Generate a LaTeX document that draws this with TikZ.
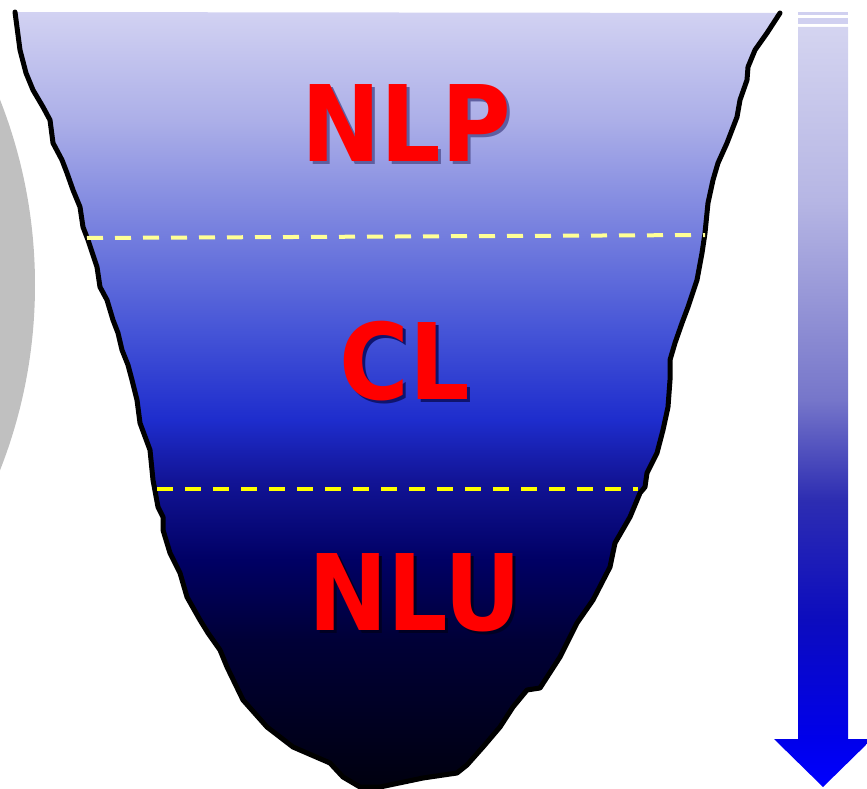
\documentclass[tikz,border=0pt]{standalone}
\usepackage{fontspec}
\usepackage{graphicx}
\newfontfamily\labelfont{DejaVu Sans}
\definecolor{lblred}{RGB}{255,0,0}
\definecolor{circgray}{RGB}{192,192,192}
\definecolor{dashpale}{RGB}{255,255,150}
\definecolor{dashyel}{RGB}{255,255,0}
\definecolor{stripecol}{RGB}{208,208,240}
\definecolor{shadowa}{RGB}{95,95,160}
\definecolor{shadowb}{RGB}{15,20,110}
\definecolor{shadowc}{RGB}{0,0,35}
\definecolor{fa}{RGB}{0,0,15}
\definecolor{fb}{RGB}{0,0,55}
\definecolor{fc}{RGB}{0,0,100}
\definecolor{fd}{RGB}{18,20,150}
\definecolor{fe}{RGB}{30,45,205}
\definecolor{ff}{RGB}{70,85,215}
\definecolor{fg}{RGB}{115,125,222}
\definecolor{fh}{RGB}{172,175,232}
\definecolor{fi}{RGB}{210,210,242}
\definecolor{aa}{RGB}{0,0,255}
\definecolor{ab}{RGB}{0,0,235}
\definecolor{ac}{RGB}{12,12,190}
\definecolor{ad}{RGB}{45,45,178}
\definecolor{ae}{RGB}{118,118,202}
\definecolor{af}{RGB}{182,182,228}
\definecolor{ag}{RGB}{212,212,240}
\pgfdeclareverticalshading{funnelshade}{100bp}{color(0bp)=(fa); color(25bp)=(fa); color(34.5bp)=(fb); color(39.6bp)=(fc); color(44.8bp)=(fd); color(48.7bp)=(fe); color(54.5bp)=(ff); color(60.5bp)=(fg); color(68bp)=(fh); color(75bp)=(fi); color(100bp)=(fi)}
\pgfdeclareverticalshading{arrowshade}{100bp}{color(0bp)=(aa); color(25bp)=(aa); color(28.1bp)=(ab); color(36bp)=(ac); color(43.9bp)=(ad); color(50.5bp)=(ae); color(63.6bp)=(af); color(75bp)=(ag); color(100bp)=(ag)}
\newcommand{\shadowed}[2]{\makebox[0pt][l]{\hspace{3pt}\raisebox{-3pt}{\textcolor{#1}{\scalebox{0.9}[1]{#2}}}}\scalebox{0.9}[1]{#2}}
\begin{document}
\begin{tikzpicture}[x=1pt,y=-1pt,
  lbl/.style={font=\labelfont\bfseries\fontsize{105.6}{110}\selectfont, text=lblred, inner sep=0pt, anchor=center},
  sepline/.style={line width=4pt, dash pattern=on 16pt off 12pt},
  outline/.style={draw=black, line width=5pt, line join=round, line cap=round}]
\useasboundingbox (0,0) rectangle (867,789);
% grey circle at left
\begin{scope}
  \clip (0,0) rectangle (867,789);
  \fill[circgray] (-471,285) circle[radius=506];
\end{scope}
% funnel
\path[shading=funnelshade, outline]
  (15,12) -- (20,50) -- (26,73) -- (33,90) -- (43,107) -- (50,120) -- (53,143) -- (62,160)
  -- (67,173) -- (73,190) -- (80,207) -- (83,227) -- (88,240) -- (97,267) -- (100,287)
  -- (107,300) -- (113,320) -- (118,333) -- (122,350) -- (128,365) -- (132,380) -- (137,400)
  -- (140,423) -- (150,450) -- (153,480) -- (158,507) -- (163,517) -- (163,530) -- (170,553)
  -- (180,573) -- (187,597) -- (200,620) -- (208,633) -- (220,650) -- (227,667) -- (243,700)
  -- (267,727) -- (280,737) -- (293,747) -- (330,763) -- (343,777) -- (360,787) -- (380,787)
  -- (423,778) -- (457,773) -- (467,765) -- (483,747) -- (500,727) -- (513,707) -- (527,690)
  -- (540,688) -- (560,657) -- (577,623) -- (593,600) -- (610,567) -- (615,543) -- (630,517)
  -- (640,493) -- (645,487) -- (647,473) -- (657,453) -- (663,430) -- (668,407) -- (670,380)
  -- (670,360) -- (675,343) -- (682,323) -- (688,307) -- (697,280) -- (702,253) -- (705,233)
  -- (708,203) -- (713,180) -- (718,163) -- (727,143) -- (737,117) -- (740,100) -- (747,80)
  -- (748,67) -- (755,50) -- (767,33) -- (780,13);
% separators
\draw[sepline, dashpale] (87,238) -- (705,235);
\draw[sepline, dashyel] (157,489) -- (638,489);
% labels
\node[lbl] (nlp) at (406,125) {\shadowed{shadowa}{NLP}};
\node[lbl] (cl) at (405,363) {\shadowed{shadowb}{CL}};
\node[lbl] (nlu) at (415,594) {\shadowed{shadowc}{NLU}};
% arrow at right
\fill[stripecol] (798,12) rectangle (848,15);
\fill[stripecol] (798,18) rectangle (848,24);
\path[shading=arrowshade] (798,27) -- (848,27) -- (848,739) -- (872,739) -- (823,787)
  -- (774,739) -- (798,739) -- cycle;
\end{tikzpicture}
\end{document}
